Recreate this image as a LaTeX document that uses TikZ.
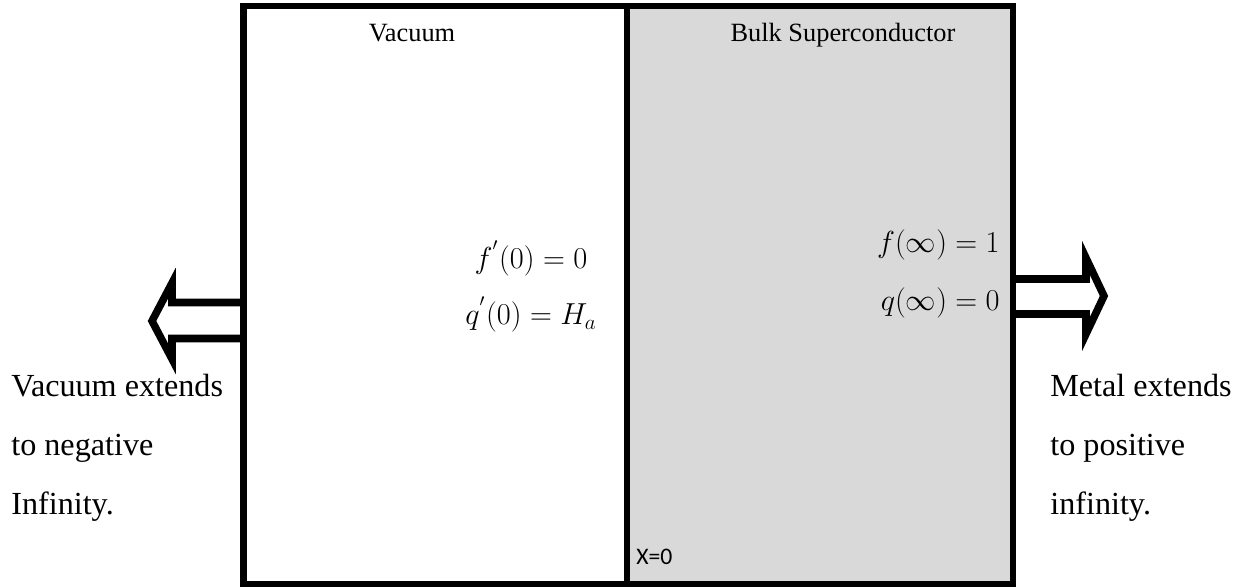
\documentclass[tikz,border=0pt]{standalone}
\usepackage{fontspec}
\setmainfont{Liberation Serif}
\newfontfamily\calibrifont{Carlito}
\definecolor{bulkgray}{RGB}{217,217,217}

\begin{document}
\begin{tikzpicture}[font=\fontsize{15}{18}\selectfont,inner sep=0pt,line join=miter]
\useasboundingbox (0,0) rectangle (24.72,11.76);
\path[fill=white,draw=black,line width=3.5pt] (4.87,.08) rectangle (12.54,11.64);
\path[fill=bulkgray,draw=black,line width=3.5pt] (12.54,.08) rectangle (20.26,11.64);
\coordinate (vacend) at (4.87,5.35);
\coordinate (metend) at (20.26,5.83);
\draw[line width=4.3pt] ([yshift=.36cm]vacend) -- (3.44,5.71) -- (3.44,6.10) -- (3.04,5.34) -- (3.44,4.58) -- (3.44,4.99) -- ([yshift=-.36cm]vacend);
\draw[line width=4.3pt] ([yshift=.35cm]metend) -- (21.72,6.18) -- (21.72,6.60) -- (22.08,5.84) -- (21.72,5.08) -- (21.72,5.48) -- ([yshift=-.35cm]metend);
\node[anchor=base] (vaclabel) at (8.24,10.92) {Vacuum};
\node[anchor=base] (bulklabel) at (16.86,10.92) {Bulk Superconductor};
\node[anchor=base,font=\fontsize{17.28}{20}\selectfont] (fprime) at (10.62,6.38) {$f^{'}(0)=0$};
\node[anchor=base,font=\fontsize{17.28}{20}\selectfont] (qprime) at (10.62,5.26) {$q^{'}(0)=H_a$};
\node[anchor=base east,font=\fontsize{17.28}{20}\selectfont] (finf) at (20.00,6.70) {$f(\infty)=1$};
\node[anchor=base east,font=\fontsize{17.28}{20}\selectfont] (qinf) at (20.00,5.55) {$q(\infty)=0$};
\node[anchor=base west,font=\fontsize{18.3}{22}\selectfont] (vacext) at (0.22,3.82) {Vacuum extends};
\node[anchor=base west,font=\fontsize{18.3}{22}\selectfont] (vacneg) at (0.22,2.64) {to negative};
\node[anchor=base west,font=\fontsize{18.3}{22}\selectfont] (vacinf) at (0.22,1.46) {Infinity.};
\node[anchor=base west,font=\fontsize{18.3}{22}\selectfont] (metext) at (21.00,3.82) {Metal extends};
\node[anchor=base west,font=\fontsize{18.3}{22}\selectfont] (metpos) at (21.00,2.64) {to positive};
\node[anchor=base west,font=\fontsize{18.3}{22}\selectfont] (metinf) at (21.00,1.46) {infinity.};
\node[anchor=base west,font=\calibrifont\fontsize{13.5}{16}\selectfont] (xzero) at (12.72,.46) {X=0};
\end{tikzpicture}
\end{document}
